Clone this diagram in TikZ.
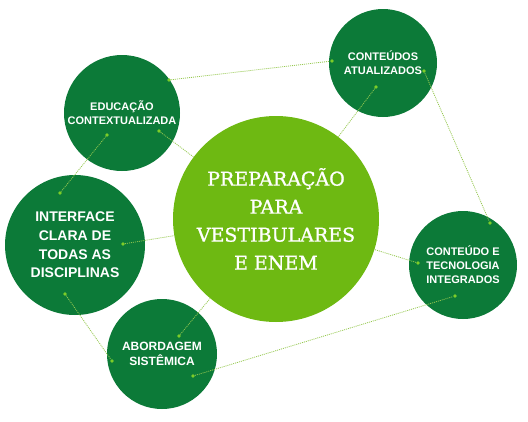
\documentclass[tikz,border=0pt]{standalone}
\usepackage{fontspec}
\setmainfont{Liberation Sans}
\newfontfamily\slabfont[FakeBold=1.2]{DejaVu Serif}
\definecolor{darkgreen}{RGB}{12,122,56}
\definecolor{limegreen}{RGB}{110,185,18}
\definecolor{linkgreen}{RGB}{150,200,80}
\definecolor{dotgreen}{RGB}{125,205,40}

\begin{document}
\begin{tikzpicture}[x=1pt,y=-1pt,
  topic/.style={circle,fill=darkgreen,text=white,align=center,inner sep=0pt},
  hub/.style={circle,fill=limegreen,text=white,align=center,inner sep=0pt},
  link/.style={linkgreen,line width=0.8pt,dash pattern=on 1pt off 1pt},
  spot/.style={circle,fill=dotgreen,inner sep=0pt,minimum size=3.6pt}]
\useasboundingbox (0,0) rectangle (528,421);

% outer circles
\node[topic,minimum size=116pt,font=\bfseries\fontsize{11}{14}\selectfont] (edu) at (122,113) {EDUCAÇÃO\\CONTEXTUALIZADA};
\node[topic,minimum size=108pt,font=\bfseries\fontsize{11}{14}\selectfont] (atu) at (383,63) {CONTEÚDOS\\ATUALIZADOS};
\node[topic,minimum size=140pt,font=\bfseries\fontsize{14}{18.7}\selectfont] (ifc) at (75,245) {INTERFACE\\CLARA DE\\TODAS AS\\DISCIPLINAS};
\node[topic,minimum size=110pt,font=\bfseries\fontsize{12}{15}\selectfont] (abo) at (162,354) {ABORDAGEM\\SISTÊMICA};
\node[topic,minimum size=108pt,font=\bfseries\fontsize{11}{14}\selectfont] (tec) at (463,265) {CONTEÚDO E\\TECNOLOGIA\\INTEGRADOS};

% dots
\node[spot] (edu1) at (169,80) {};
\node[spot] (edu2) at (159,131) {};
\node[spot] (edu3) at (107,135) {};
\node[spot] (atu1) at (332,61) {};
\node[spot] (atu2) at (424,71) {};
\node[spot] (atu3) at (376,87) {};
\node[spot] (ifc1) at (60,193) {};
\node[spot] (ifc2) at (123,244) {};
\node[spot] (ifc3) at (65,294) {};
\node[spot] (abo1) at (112,361) {};
\node[spot] (abo2) at (179,336) {};
\node[spot] (abo3) at (193,376) {};
\node[spot] (tec1) at (490,223) {};
\node[spot] (tec2) at (418,263) {};
\node[spot] (tec3) at (455,296) {};

% centre
\node[hub,minimum size=206pt,font=\slabfont\fontsize{19}{28}\selectfont] (prep) at (276,219) {PREPARAÇÃO\\PARA\\VESTIBULARES\\E ENEM};

% links
\draw[link] (edu1) -- (atu1);
\draw[link] (atu2) -- (tec1);
\draw[link] (edu3) -- (ifc1);
\draw[link] (ifc3) -- (abo1);
\draw[link] (abo3) -- (tec3);
\draw[link] (edu2) -- (prep);
\draw[link] (atu3) -- (prep);
\draw[link] (ifc2) -- (prep);
\draw[link] (abo2) -- (prep);
\draw[link] (tec2) -- (prep);
\end{tikzpicture}
\end{document}
